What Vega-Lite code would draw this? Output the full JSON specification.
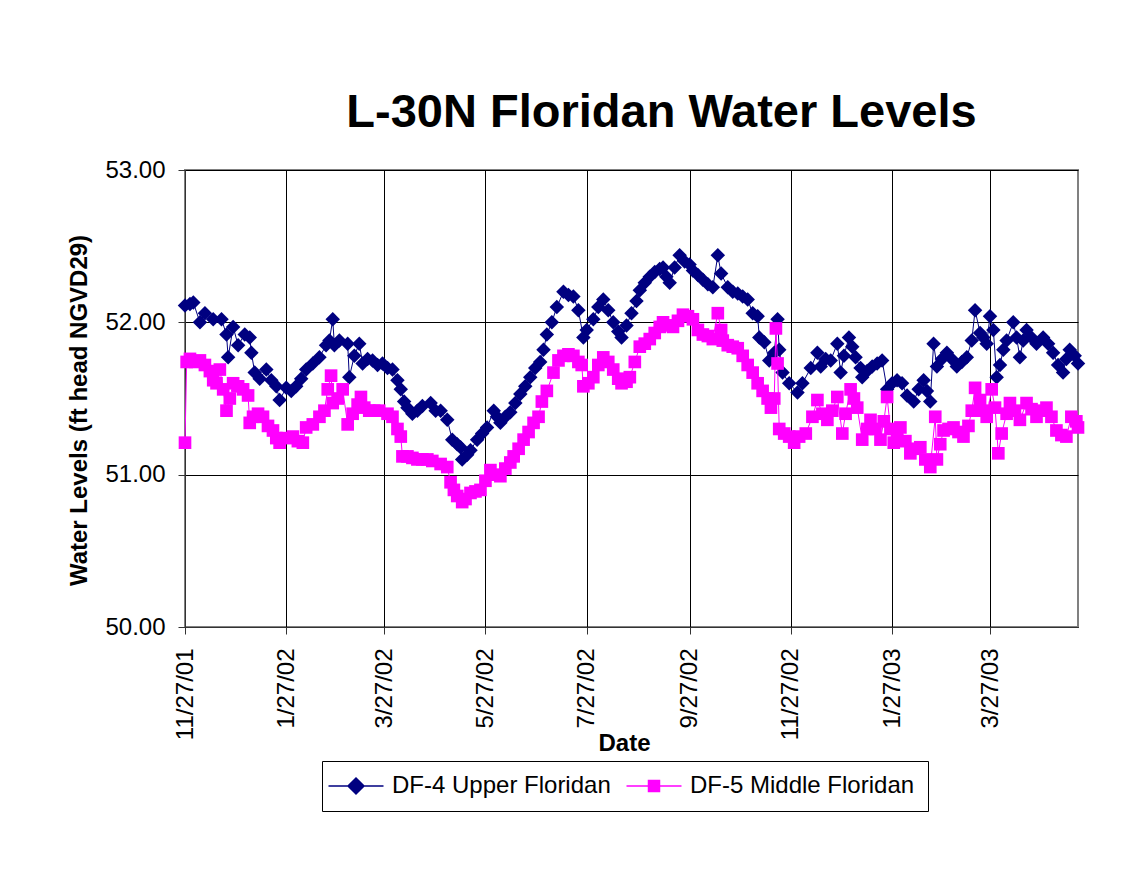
{
  "$schema": "https://vega.github.io/schema/vega-lite/v6.json",
  "autosize": "none",
  "width": 893,
  "height": 457,
  "padding": {"left": 185, "top": 170, "right": 66, "bottom": 263},
  "background": "white",
  "title": {"text": "L-30N Floridan Water Levels", "font": "Liberation Sans", "fontSize": 47, "fontWeight": "bold", "color": "black", "anchor": "middle", "dx": 30, "offset": 21},
  "config": {
    "font": "Liberation Sans",
    "view": {"stroke": "#808080", "strokeWidth": 2}
  },
  "datasets": {
    "df4": [
      {"date":"2001-11-27","level":52.11},{"date":"2001-11-30","level":52.12},{"date":"2001-12-02","level":52.13},{"date":"2001-12-06","level":52.00},{"date":"2001-12-09","level":52.06},{"date":"2001-12-14","level":52.02},{"date":"2001-12-19","level":52.02},{"date":"2001-12-22","level":51.92},{"date":"2001-12-23","level":51.77},{"date":"2001-12-26","level":51.97},{"date":"2001-12-29","level":51.85},
      {"date":"2002-01-02","level":51.92},{"date":"2002-01-05","level":51.90},{"date":"2002-01-06","level":51.80},{"date":"2002-01-08","level":51.67},{"date":"2002-01-11","level":51.63},{"date":"2002-01-15","level":51.69},{"date":"2002-01-18","level":51.62},{"date":"2002-01-21","level":51.58},{"date":"2002-01-23","level":51.49},{"date":"2002-01-27","level":51.57},{"date":"2002-01-30","level":51.55},
      {"date":"2002-02-02","level":51.58},{"date":"2002-02-05","level":51.63},{"date":"2002-02-08","level":51.69},{"date":"2002-02-12","level":51.73},{"date":"2002-02-16","level":51.77},{"date":"2002-02-20","level":51.85},{"date":"2002-02-22","level":51.88},{"date":"2002-02-24","level":52.02},{"date":"2002-02-25","level":51.85},{"date":"2002-02-28","level":51.88},
      {"date":"2002-03-05","level":51.86},{"date":"2002-03-06","level":51.64},{"date":"2002-03-09","level":51.78},{"date":"2002-03-12","level":51.86},{"date":"2002-03-14","level":51.73},{"date":"2002-03-17","level":51.76},{"date":"2002-03-20","level":51.75},{"date":"2002-03-23","level":51.72},{"date":"2002-03-26","level":51.73},{"date":"2002-03-29","level":51.70},
      {"date":"2002-04-01","level":51.69},{"date":"2002-04-04","level":51.62},{"date":"2002-04-06","level":51.56},{"date":"2002-04-08","level":51.48},{"date":"2002-04-10","level":51.44},{"date":"2002-04-13","level":51.40},{"date":"2002-04-16","level":51.42},{"date":"2002-04-19","level":51.45},{"date":"2002-04-24","level":51.47},{"date":"2002-04-27","level":51.42},{"date":"2002-04-30","level":51.42},
      {"date":"2002-05-04","level":51.36},{"date":"2002-05-07","level":51.23},{"date":"2002-05-10","level":51.20},{"date":"2002-05-12","level":51.18},{"date":"2002-05-13","level":51.10},{"date":"2002-05-16","level":51.13},{"date":"2002-05-18","level":51.16},{"date":"2002-05-22","level":51.23},{"date":"2002-05-25","level":51.27},{"date":"2002-05-28","level":51.31},
      {"date":"2002-06-01","level":51.42},{"date":"2002-06-03","level":51.38},{"date":"2002-06-05","level":51.34},{"date":"2002-06-08","level":51.38},{"date":"2002-06-11","level":51.41},{"date":"2002-06-14","level":51.47},{"date":"2002-06-17","level":51.53},{"date":"2002-06-20","level":51.58},{"date":"2002-06-23","level":51.64},{"date":"2002-06-26","level":51.70},{"date":"2002-06-29","level":51.74},
      {"date":"2002-07-01","level":51.82},{"date":"2002-07-03","level":51.92},{"date":"2002-07-06","level":52.00},{"date":"2002-07-09","level":52.10},{"date":"2002-07-13","level":52.20},{"date":"2002-07-16","level":52.18},{"date":"2002-07-19","level":52.17},{"date":"2002-07-22","level":52.08},{"date":"2002-07-25","level":51.90},{"date":"2002-07-27","level":51.95},{"date":"2002-07-31","level":52.02},
      {"date":"2002-08-03","level":52.10},{"date":"2002-08-06","level":52.15},{"date":"2002-08-09","level":52.08},{"date":"2002-08-12","level":52.00},{"date":"2002-08-15","level":51.94},{"date":"2002-08-17","level":51.90},{"date":"2002-08-20","level":51.98},{"date":"2002-08-23","level":52.06},{"date":"2002-08-26","level":52.14},{"date":"2002-08-28","level":52.21},{"date":"2002-08-31","level":52.26},
      {"date":"2002-09-03","level":52.30},{"date":"2002-09-06","level":52.33},{"date":"2002-09-09","level":52.35},{"date":"2002-09-11","level":52.36},{"date":"2002-09-13","level":52.30},{"date":"2002-09-15","level":52.26},{"date":"2002-09-18","level":52.36},{"date":"2002-09-21","level":52.44},{"date":"2002-09-24","level":52.40},{"date":"2002-09-27","level":52.38},{"date":"2002-09-29","level":52.34},
      {"date":"2002-10-02","level":52.31},{"date":"2002-10-05","level":52.28},{"date":"2002-10-08","level":52.25},{"date":"2002-10-11","level":52.23},{"date":"2002-10-14","level":52.44},{"date":"2002-10-16","level":52.32},{"date":"2002-10-20","level":52.23},{"date":"2002-10-23","level":52.20},{"date":"2002-10-26","level":52.19},{"date":"2002-10-29","level":52.17},
      {"date":"2002-11-01","level":52.15},{"date":"2002-11-04","level":52.06},{"date":"2002-11-07","level":52.04},{"date":"2002-11-08","level":51.90},{"date":"2002-11-11","level":51.87},{"date":"2002-11-14","level":51.75},{"date":"2002-11-17","level":51.80},{"date":"2002-11-19","level":52.02},{"date":"2002-11-20","level":51.82},{"date":"2002-11-22","level":51.67},{"date":"2002-11-26","level":51.60},
      {"date":"2002-12-01","level":51.54},{"date":"2002-12-04","level":51.60},{"date":"2002-12-09","level":51.70},{"date":"2002-12-13","level":51.80},{"date":"2002-12-15","level":51.71},{"date":"2002-12-18","level":51.76},{"date":"2002-12-21","level":51.75},{"date":"2002-12-25","level":51.86},{"date":"2002-12-27","level":51.67},{"date":"2002-12-29","level":51.78},
      {"date":"2003-01-01","level":51.90},{"date":"2003-01-03","level":51.84},{"date":"2003-01-05","level":51.77},{"date":"2003-01-08","level":51.70},{"date":"2003-01-09","level":51.64},{"date":"2003-01-12","level":51.68},{"date":"2003-01-15","level":51.71},{"date":"2003-01-18","level":51.73},{"date":"2003-01-21","level":51.75},{"date":"2003-01-24","level":51.56},{"date":"2003-01-27","level":51.60},{"date":"2003-01-30","level":51.62},
      {"date":"2003-02-02","level":51.60},{"date":"2003-02-05","level":51.52},{"date":"2003-02-09","level":51.48},{"date":"2003-02-12","level":51.56},{"date":"2003-02-15","level":51.62},{"date":"2003-02-17","level":51.55},{"date":"2003-02-19","level":51.48},{"date":"2003-02-21","level":51.86},{"date":"2003-02-23","level":51.71},{"date":"2003-02-26","level":51.76},
      {"date":"2003-03-01","level":51.80},{"date":"2003-03-04","level":51.76},{"date":"2003-03-07","level":51.71},{"date":"2003-03-10","level":51.74},{"date":"2003-03-13","level":51.77},{"date":"2003-03-16","level":51.88},{"date":"2003-03-18","level":52.08},{"date":"2003-03-21","level":51.93},{"date":"2003-03-23","level":51.90},{"date":"2003-03-25","level":51.86},{"date":"2003-03-27","level":52.04},{"date":"2003-03-29","level":51.95},{"date":"2003-03-31","level":51.64},
      {"date":"2003-04-02","level":51.72},{"date":"2003-04-04","level":51.82},{"date":"2003-04-06","level":51.88},{"date":"2003-04-10","level":52.00},{"date":"2003-04-12","level":51.90},{"date":"2003-04-14","level":51.77},{"date":"2003-04-16","level":51.88},{"date":"2003-04-18","level":51.95},{"date":"2003-04-21","level":51.90},{"date":"2003-04-24","level":51.86},{"date":"2003-04-28","level":51.90},
      {"date":"2003-05-01","level":51.86},{"date":"2003-05-04","level":51.80},{"date":"2003-05-07","level":51.72},{"date":"2003-05-10","level":51.67},{"date":"2003-05-12","level":51.76},{"date":"2003-05-14","level":51.82},{"date":"2003-05-17","level":51.78},{"date":"2003-05-19","level":51.73}
    ],
    "df5": [
      {"date":"2001-11-27","level":51.21},{"date":"2001-11-28","level":51.74},{"date":"2001-11-30","level":51.76},{"date":"2001-12-03","level":51.74},{"date":"2001-12-06","level":51.75},{"date":"2001-12-09","level":51.72},{"date":"2001-12-12","level":51.68},{"date":"2001-12-14","level":51.62},{"date":"2001-12-16","level":51.60},{"date":"2001-12-18","level":51.69},{"date":"2001-12-20","level":51.56},{"date":"2001-12-22","level":51.42},{"date":"2001-12-24","level":51.50},{"date":"2001-12-26","level":51.60},{"date":"2001-12-29","level":51.58},
      {"date":"2002-01-01","level":51.56},{"date":"2002-01-04","level":51.52},{"date":"2002-01-05","level":51.34},{"date":"2002-01-07","level":51.38},{"date":"2002-01-10","level":51.40},{"date":"2002-01-13","level":51.38},{"date":"2002-01-16","level":51.32},{"date":"2002-01-19","level":51.29},{"date":"2002-01-21","level":51.24},{"date":"2002-01-23","level":51.21},{"date":"2002-01-27","level":51.24},{"date":"2002-01-31","level":51.25},
      {"date":"2002-02-03","level":51.22},{"date":"2002-02-06","level":51.21},{"date":"2002-02-08","level":51.31},{"date":"2002-02-12","level":51.33},{"date":"2002-02-16","level":51.38},{"date":"2002-02-19","level":51.42},{"date":"2002-02-21","level":51.56},{"date":"2002-02-23","level":51.65},{"date":"2002-02-24","level":51.47},{"date":"2002-02-27","level":51.50},
      {"date":"2002-03-02","level":51.56},{"date":"2002-03-05","level":51.33},{"date":"2002-03-08","level":51.40},{"date":"2002-03-11","level":51.46},{"date":"2002-03-13","level":51.51},{"date":"2002-03-15","level":51.44},{"date":"2002-03-18","level":51.42},{"date":"2002-03-21","level":51.42},{"date":"2002-03-24","level":51.42},{"date":"2002-03-29","level":51.40},
      {"date":"2002-04-01","level":51.38},{"date":"2002-04-04","level":51.30},{"date":"2002-04-06","level":51.25},{"date":"2002-04-07","level":51.12},{"date":"2002-04-10","level":51.12},{"date":"2002-04-13","level":51.11},{"date":"2002-04-16","level":51.10},{"date":"2002-04-19","level":51.10},{"date":"2002-04-22","level":51.10},{"date":"2002-04-25","level":51.09},{"date":"2002-04-30","level":51.07},
      {"date":"2002-05-04","level":51.05},{"date":"2002-05-06","level":50.95},{"date":"2002-05-08","level":50.90},{"date":"2002-05-10","level":50.86},{"date":"2002-05-13","level":50.82},{"date":"2002-05-15","level":50.84},{"date":"2002-05-18","level":50.88},{"date":"2002-05-21","level":50.89},{"date":"2002-05-24","level":50.90},{"date":"2002-05-27","level":50.96},{"date":"2002-05-30","level":51.03},
      {"date":"2002-06-02","level":51.00},{"date":"2002-06-05","level":50.99},{"date":"2002-06-08","level":51.04},{"date":"2002-06-11","level":51.08},{"date":"2002-06-13","level":51.12},{"date":"2002-06-16","level":51.17},{"date":"2002-06-19","level":51.23},{"date":"2002-06-22","level":51.28},{"date":"2002-06-25","level":51.34},{"date":"2002-06-28","level":51.38},{"date":"2002-06-30","level":51.48},
      {"date":"2002-07-03","level":51.55},{"date":"2002-07-07","level":51.67},{"date":"2002-07-10","level":51.75},{"date":"2002-07-13","level":51.78},{"date":"2002-07-16","level":51.79},{"date":"2002-07-19","level":51.78},{"date":"2002-07-22","level":51.74},{"date":"2002-07-24","level":51.72},{"date":"2002-07-25","level":51.58},{"date":"2002-07-28","level":51.60},{"date":"2002-07-31","level":51.64},
      {"date":"2002-08-03","level":51.72},{"date":"2002-08-06","level":51.77},{"date":"2002-08-09","level":51.74},{"date":"2002-08-12","level":51.69},{"date":"2002-08-15","level":51.63},{"date":"2002-08-17","level":51.60},{"date":"2002-08-20","level":51.61},{"date":"2002-08-22","level":51.64},{"date":"2002-08-25","level":51.74},{"date":"2002-08-28","level":51.84},{"date":"2002-08-31","level":51.86},
      {"date":"2002-09-03","level":51.89},{"date":"2002-09-06","level":51.93},{"date":"2002-09-09","level":51.97},{"date":"2002-09-11","level":52.00},{"date":"2002-09-14","level":51.98},{"date":"2002-09-17","level":51.97},{"date":"2002-09-20","level":52.01},{"date":"2002-09-23","level":52.05},{"date":"2002-09-26","level":52.04},{"date":"2002-09-29","level":52.02},
      {"date":"2002-10-02","level":51.95},{"date":"2002-10-05","level":51.92},{"date":"2002-10-08","level":51.91},{"date":"2002-10-11","level":51.89},{"date":"2002-10-14","level":52.06},{"date":"2002-10-16","level":51.95},{"date":"2002-10-17","level":51.88},{"date":"2002-10-20","level":51.85},{"date":"2002-10-23","level":51.84},{"date":"2002-10-26","level":51.83},{"date":"2002-10-29","level":51.78},
      {"date":"2002-11-01","level":51.72},{"date":"2002-11-04","level":51.67},{"date":"2002-11-07","level":51.60},{"date":"2002-11-10","level":51.55},{"date":"2002-11-13","level":51.50},{"date":"2002-11-15","level":51.44},{"date":"2002-11-17","level":51.50},{"date":"2002-11-18","level":51.96},{"date":"2002-11-19","level":51.73},{"date":"2002-11-20","level":51.30},{"date":"2002-11-23","level":51.27},{"date":"2002-11-26","level":51.25},{"date":"2002-11-29","level":51.21},
      {"date":"2002-12-02","level":51.25},{"date":"2002-12-06","level":51.27},{"date":"2002-12-10","level":51.38},{"date":"2002-12-13","level":51.49},{"date":"2002-12-16","level":51.40},{"date":"2002-12-19","level":51.36},{"date":"2002-12-22","level":51.42},{"date":"2002-12-25","level":51.51},{"date":"2002-12-28","level":51.27},{"date":"2002-12-30","level":51.40},
      {"date":"2003-01-02","level":51.56},{"date":"2003-01-04","level":51.50},{"date":"2003-01-06","level":51.44},{"date":"2003-01-09","level":51.23},{"date":"2003-01-12","level":51.30},{"date":"2003-01-14","level":51.36},{"date":"2003-01-17","level":51.30},{"date":"2003-01-20","level":51.23},{"date":"2003-01-22","level":51.35},{"date":"2003-01-24","level":51.51},{"date":"2003-01-26","level":51.30},{"date":"2003-01-28","level":51.21},{"date":"2003-01-30","level":51.28},
      {"date":"2003-02-01","level":51.31},{"date":"2003-02-04","level":51.22},{"date":"2003-02-07","level":51.14},{"date":"2003-02-10","level":51.17},{"date":"2003-02-13","level":51.18},{"date":"2003-02-16","level":51.10},{"date":"2003-02-19","level":51.05},{"date":"2003-02-22","level":51.38},{"date":"2003-02-23","level":51.10},{"date":"2003-02-25","level":51.20},{"date":"2003-02-27","level":51.29},
      {"date":"2003-03-02","level":51.30},{"date":"2003-03-05","level":51.31},{"date":"2003-03-08","level":51.28},{"date":"2003-03-11","level":51.25},{"date":"2003-03-14","level":51.32},{"date":"2003-03-16","level":51.42},{"date":"2003-03-18","level":51.57},{"date":"2003-03-21","level":51.49},{"date":"2003-03-23","level":51.42},{"date":"2003-03-25","level":51.38},{"date":"2003-03-28","level":51.56},{"date":"2003-03-30","level":51.44},
      {"date":"2003-04-01","level":51.14},{"date":"2003-04-03","level":51.27},{"date":"2003-04-06","level":51.40},{"date":"2003-04-08","level":51.47},{"date":"2003-04-11","level":51.42},{"date":"2003-04-14","level":51.36},{"date":"2003-04-18","level":51.47},{"date":"2003-04-21","level":51.43},{"date":"2003-04-24","level":51.38},{"date":"2003-04-27","level":51.42},{"date":"2003-04-30","level":51.44},
      {"date":"2003-05-03","level":51.38},{"date":"2003-05-06","level":51.29},{"date":"2003-05-09","level":51.26},{"date":"2003-05-12","level":51.25},{"date":"2003-05-15","level":51.38},{"date":"2003-05-18","level":51.35},{"date":"2003-05-19","level":51.31}
    ]
  },
  "encoding": {
    "x": {
      "field": "date", "type": "temporal",
      "scale": {"type": "utc", "domain": [{"year": 2001, "month": 11, "date": 27, "utc": true}, {"year": 2003, "month": 5, "date": 19, "utc": true}]},
      "axis": {
        "title": "Date",
        "values": [
          {"year": 2001, "month": 11, "date": 27, "utc": true},
          {"year": 2002, "month": 1, "date": 27, "utc": true},
          {"year": 2002, "month": 3, "date": 27, "utc": true},
          {"year": 2002, "month": 5, "date": 27, "utc": true},
          {"year": 2002, "month": 7, "date": 27, "utc": true},
          {"year": 2002, "month": 9, "date": 27, "utc": true},
          {"year": 2002, "month": 11, "date": 27, "utc": true},
          {"year": 2003, "month": 1, "date": 27, "utc": true},
          {"year": 2003, "month": 3, "date": 27, "utc": true}
        ],
        "labelExpr": "utcFormat(datum.value, '%-m/%d/%y')",
        "labelAngle": 270, "labelAlign": "right", "labelBaseline": "middle",
        "labelFont": "Liberation Sans", "labelFontSize": 24, "labelColor": "black", "labelPadding": 14, "labelOverlap": false, "labelFlush": false,
        "tickSize": 7, "tickColor": "#333333", "domainColor": "#333333",
        "grid": true, "gridColor": "#000000", "gridWidth": 1, "gridOpacity": 1,
        "titleFont": "Liberation Sans", "titleFontSize": 24, "titleFontWeight": "bold", "titleColor": "black",
        "titleX": 439, "titleY": 123, "titleBaseline": "alphabetic", "titleAlign": "center"
      }
    },
    "y": {
      "field": "level", "type": "quantitative",
      "scale": {"domain": [50, 53], "nice": false, "zero": false},
      "axis": {
        "title": "Water Levels (ft head NGVD29)",
        "values": [50, 51, 52, 53], "format": ".2f",
        "labelFont": "Liberation Sans", "labelFontSize": 24, "labelColor": "black", "labelPadding": 13,
        "tickSize": 7, "tickColor": "#333333", "domainColor": "#333333",
        "grid": true, "gridColor": "#000000", "gridWidth": 1, "gridOpacity": 1,
        "titleFont": "Liberation Sans", "titleFontSize": 24, "titleFontWeight": "bold", "titleColor": "black",
        "titleX": -99, "titleY": 240, "titleAngle": 270, "titleBaseline": "alphabetic", "titleAlign": "center"
      }
    }
  },
  "layer": [
    {
      "data": {"name": "df4"},
      "mark": {"type": "line", "strokeWidth": 1},
      "encoding": {
        "color": {
          "datum": "DF-4 Upper Floridan", "type": "nominal",
          "scale": {"domain": ["DF-4 Upper Floridan", "DF-5 Middle Floridan"], "range": ["#000080", "#FF00FF"]},
          "legend": {
            "orient": "none", "legendX": 137, "legendY": 591, "direction": "horizontal", "title": null,
            "padding": 13, "strokeColor": "black", "fillColor": "white",
            "labelFont": "Liberation Sans", "labelFontSize": 24, "labelColor": "black", "labelLimit": 400,
            "columnPadding": 12, "symbolOffset": 9, "labelOffset": 24, "symbolSize": 400, "symbolStrokeWidth": 1.5,
            "encode": {
              "symbols": {
                "update": {
                  "shape": {"signal": "datum.value === 'DF-4 Upper Floridan' ? 'M-2.75,0H2.75M0,-0.8L0.8,0L0,0.8L-0.8,0Z' : 'M-2.75,0H2.75M-0.55,-0.55H0.55V0.55H-0.55Z'"},
                  "fill": {"signal": "scale('color', datum.value)"},
                  "stroke": {"signal": "scale('color', datum.value)"},
                  "strokeWidth": {"value": 1.5},
                  "opacity": {"value": 1},
                  "fillOpacity": {"value": 1},
                  "strokeOpacity": {"value": 1}
                }
              }
            }
          }
        }
      }
    },
    {
      "data": {"name": "df4"},
      "mark": {"type": "point", "shape": "diamond", "filled": true, "size": 210, "opacity": 1},
      "encoding": {"color": {"datum": "DF-4 Upper Floridan", "type": "nominal"}}
    },
    {
      "data": {"name": "df5"},
      "mark": {"type": "line", "strokeWidth": 1},
      "encoding": {"color": {"datum": "DF-5 Middle Floridan", "type": "nominal"}}
    },
    {
      "data": {"name": "df5"},
      "mark": {"type": "point", "shape": "square", "filled": true, "size": 160, "opacity": 1},
      "encoding": {"color": {"datum": "DF-5 Middle Floridan", "type": "nominal"}}
    }
  ]
}
